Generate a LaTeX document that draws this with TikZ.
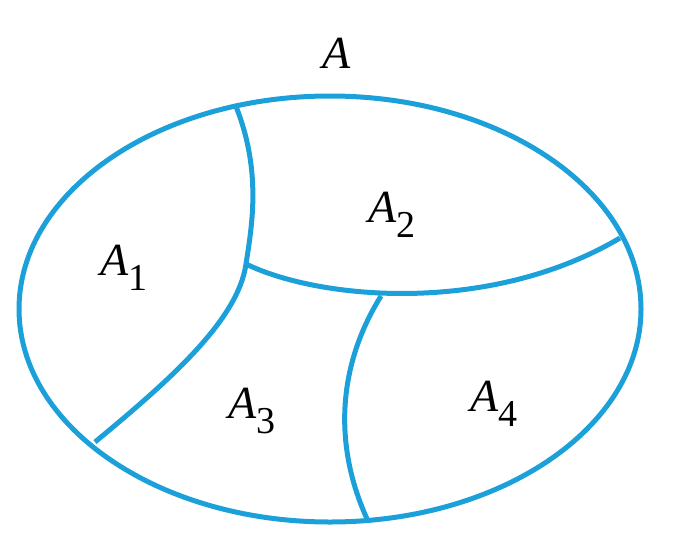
\documentclass[tikz,border=0pt]{standalone}
\usepackage{fontspec}
\setmainfont{Liberation Serif}
\definecolor{setblue}{RGB}{28,160,218}
\tikzset{
  setline/.style={draw=setblue, line width=5pt},
  lab/.style={anchor=base west, inner sep=0pt, font=\fontsize{46}{50}\selectfont},
}
\newcommand{\subl}[2]{\textit{#1}\raisebox{-15pt}{\fontsize{38}{40}\selectfont #2}}
\begin{document}
\begin{tikzpicture}[x=1pt,y=-1pt]
\useasboundingbox (0,0) rectangle (684,546);
% region boundary
\draw[setline] (330,309) ellipse [x radius=311, y radius=213];
% points
\coordinate (t1) at (235,104);
\coordinate (j1) at (246,264);
\coordinate (b1) at (95,442);
\coordinate (r2) at (620,238);
\coordinate (j2) at (381,296);
\coordinate (b3) at (368,521);
% dividing curves
\draw[setline] (t1) .. controls (262,170) and (252,225) .. (j1)
               .. controls (238,320) and (170,380) .. (b1);
\draw[setline] (j1) .. controls (320,300) and (490,315) .. (r2);
\draw[setline] (j2) .. controls (335,370) and (335,450) .. (b3);
% labels
\node[lab] (lA) at (322,68) {\textit{A}};
\node[lab] (l1) at (100,275) {\subl{A}{1}};
\node[lab] (l2) at (368,222) {\subl{A}{2}};
\node[lab] (l3) at (228,418) {\subl{A}{3}};
\node[lab] (l4) at (470,411) {\subl{A}{4}};
\end{tikzpicture}
\end{document}
